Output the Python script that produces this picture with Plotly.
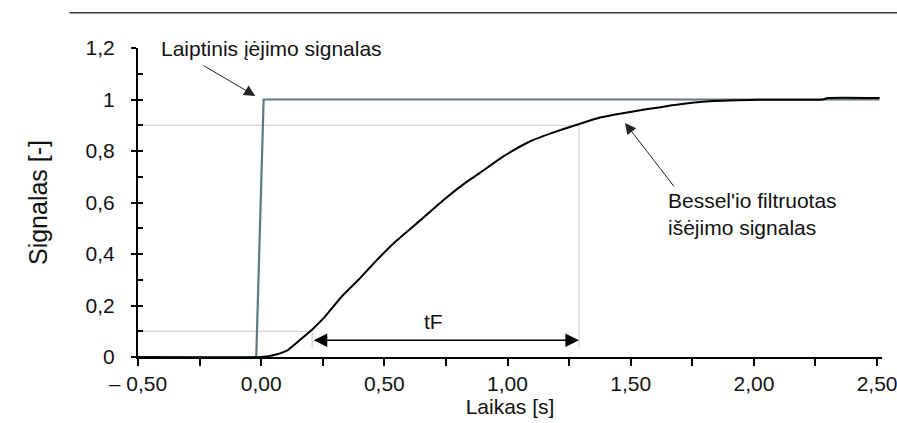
import plotly.graph_objects as go

# ---- data ----
step_x = [-0.5, -0.02, 0.01, 2.51]
step_y = [0, 0, 1, 1]

out_x = [-0.5, 0.0, 0.057, 0.11, 0.151, 0.206, 0.26, 0.327, 0.395, 0.462, 0.55, 0.645,
         0.739, 0.834, 0.888, 0.983, 1.091, 1.199, 1.294, 1.375, 1.456, 1.55, 1.686,
         1.821, 2.023, 2.28, 2.30, 2.51]
out_y = [0, 0, 0.009, 0.028, 0.061, 0.106, 0.158, 0.235, 0.300, 0.369, 0.452, 0.530,
         0.609, 0.680, 0.715, 0.779, 0.837, 0.876, 0.906, 0.930, 0.945, 0.960, 0.980,
         0.993, 0.999, 1.000, 1.006, 1.006]

x_tickvals = [-0.5, 0.0, 0.5, 1.0, 1.5, 2.0, 2.5]
x_ticktext = ["\u2013 0,50", "0,00", "0,50", "1,00", "1,50", "2,00", "2,50"]
y_tickvals = [0, 0.2, 0.4, 0.6, 0.8, 1.0, 1.2]
y_ticktext = ["0", "0,2", "0,4", "0,6", "0,8", "1", "1,2"]

rise_lo, rise_hi = 0.1, 0.9          # 10 % / 90 % levels
t_lo, t_hi = 0.207, 1.29             # times where the output crosses them
tf_y = 0.065                         # level of the tF dimension arrow
guide_bottom = 0.038

FONT = "Liberation Sans, Arial, sans-serif"
GRID = "#c8c8c8"
FS = 21

fig = go.Figure()

fig.add_trace(go.Scatter(x=step_x, y=step_y, mode="lines",
                         line=dict(color="#5e7b7c", width=2.2),
                         showlegend=False, hoverinfo="skip"))
fig.add_trace(go.Scatter(x=out_x, y=out_y, mode="lines",
                         line=dict(color="#000000", width=2, shape="spline", smoothing=0.5),
                         showlegend=False, hoverinfo="skip"))

shapes = [
    dict(type="line", xref="x", yref="y", x0=-0.5, x1=t_hi, y0=rise_hi, y1=rise_hi,
         line=dict(color=GRID, width=1), layer="below"),
    dict(type="line", xref="x", yref="y", x0=t_hi, x1=t_hi, y0=rise_hi, y1=guide_bottom,
         line=dict(color=GRID, width=1), layer="below"),
    dict(type="line", xref="x", yref="y", x0=-0.5, x1=t_lo, y0=rise_lo, y1=rise_lo,
         line=dict(color=GRID, width=1), layer="below"),
    dict(type="line", xref="x", yref="y", x0=t_lo, x1=t_lo, y0=rise_lo, y1=guide_bottom,
         line=dict(color=GRID, width=1), layer="below"),
    dict(type="line", xref="paper", yref="paper", x0=-0.092, x1=1.03, y0=1.114, y1=1.114,
         line=dict(color="#3a3a3a", width=1.5)),
]

annotations = [
    dict(x=t_hi, y=tf_y, ax=t_lo, ay=tf_y, xref="x", yref="y", axref="x", ayref="y",
         text="", showarrow=True, arrowhead=2, startarrowhead=2, arrowside="end+start",
         arrowsize=1.7, startarrowsize=1.7, arrowwidth=1.6, arrowcolor="#000000"),
    dict(x=0.699, y=0.137, xref="x", yref="y", text="tF", showarrow=False,
         font=dict(family=FONT, size=FS, color="#111111")),
    dict(x=-0.024, y=1.014, ax=-0.24, ay=1.135, xref="x", yref="y", axref="x", ayref="y",
         text="", showarrow=True, arrowhead=2, arrowsize=2.2, arrowwidth=1,
         arrowcolor="#222222"),
    dict(x=-0.415, y=1.2, xref="x", yref="y", xanchor="left", yanchor="middle",
         text="Laiptinis įėjimo signalas", showarrow=False,
         font=dict(family=FONT, size=FS, color="#111111")),
    dict(x=1.477, y=0.909, ax=1.68, ay=0.657, xref="x", yref="y", axref="x", ayref="y",
         text="", showarrow=True, arrowhead=2, arrowsize=2.2, arrowwidth=1,
         arrowcolor="#222222"),
    dict(x=1.645, y=0.556, xref="x", yref="y", xanchor="left", yanchor="middle", align="left",
         text="Bessel'io filtruotas<br>išėjimo signalas", showarrow=False,
         font=dict(family=FONT, size=FS, color="#111111")),
]

fig.update_layout(
    width=897, height=423,
    margin=dict(l=138, r=15, t=48, b=66),
    paper_bgcolor="white", plot_bgcolor="white",
    font=dict(family=FONT, size=FS, color="#111111"),
    shapes=shapes, annotations=annotations,
    showlegend=False,
    xaxis=dict(range=[-0.5, 2.52], showgrid=False, zeroline=False, automargin=False,
               showline=True, linecolor="#000000", linewidth=2.2,
               tickmode="array", tickvals=x_tickvals, ticktext=x_ticktext,
               ticks="outside", ticklen=7, tickwidth=1.6, tickcolor="#000000",
               ticklabelstandoff=0, ticklabeloverflow="allow",
               minor=dict(dtick=0.25, tick0=0, ticks="outside", ticklen=7,
                          tickwidth=1.6, tickcolor="#000000"),
               title=dict(text="Laikas [s]", standoff=2,
                          font=dict(family=FONT, size=FS))),
    yaxis=dict(range=[0, 1.2], showgrid=False, zeroline=False, automargin=False,
               showline=True, linecolor="#000000", linewidth=2.2,
               tickmode="array", tickvals=y_tickvals, ticktext=y_ticktext,
               ticks="outside", ticklen=5, tickwidth=1.6, tickcolor="#000000",
               ticklabelstandoff=12,
               title=dict(text="Signalas [-]", standoff=31,
                          font=dict(family=FONT, size=25))),
    yaxis2=dict(range=[0, 1.2], overlaying="y", side="left", showgrid=False,
                zeroline=False, showline=False, showticklabels=False, automargin=False,
                tickmode="linear", tick0=0, dtick=0.1,
                ticks="inside", ticklen=5, tickwidth=1.6, tickcolor="#000000"),
)

fig.add_trace(go.Scatter(x=[-0.5], y=[0], yaxis="y2", mode="markers",
                         marker=dict(opacity=0), showlegend=False, hoverinfo="skip"))

fig.write_html("out.html", config={"displayModeBar": False})

# remove the browser's default page margin so the figure sits at (0, 0)
with open("out.html", encoding="utf-8") as f:
    html = f.read()
html = html.replace("<head>", "<head><style>html,body{margin:0;padding:0;overflow:hidden;}</style>", 1)
with open("out.html", "w", encoding="utf-8") as f:
    f.write(html)
